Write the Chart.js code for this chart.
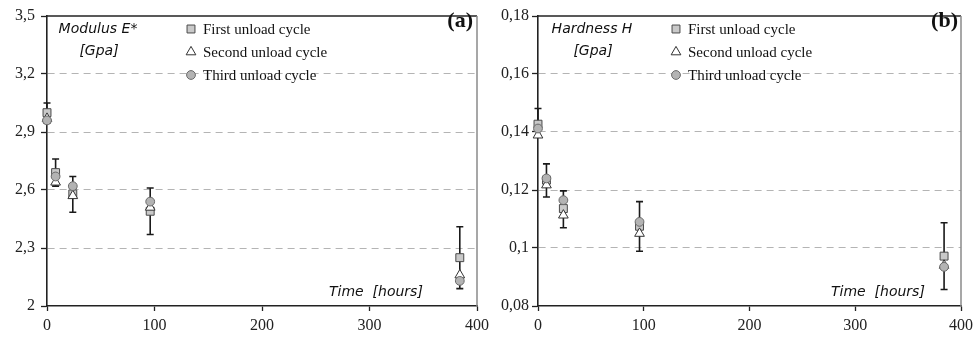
<!DOCTYPE html>
<html><head><meta charset="utf-8">
<script src="https://cdn.jsdelivr.net/npm/chart.js@4/dist/chart.umd.min.js"></script>
<style>
html,body{margin:0;padding:0;background:#fff;}
#wrap{position:relative;width:974px;height:339px;overflow:hidden;}
.pane{position:absolute;top:0;height:339px;}
</style></head><body>
<div id="wrap">
<div class="pane" style="left:0;width:500px"><canvas id="ca"></canvas></div>
<div class="pane" style="left:487px;width:487px"><canvas id="cb"></canvas></div>
</div>
<script>
// ---- data ----
const timeHours = [0, 8, 24, 96, 384];
const seriesNames = ['First unload cycle', 'Second unload cycle', 'Third unload cycle'];

const modulusFirst   = [3.00, 2.69, 2.58, 2.49, 2.25];
const modulusSecond  = [2.97, 2.64, 2.57, 2.51, 2.16];
const modulusThird   = [2.96, 2.67, 2.62, 2.54, 2.13];
const modulusErrLow  = [2.945, 2.62, 2.485, 2.37, 2.09];
const modulusErrHigh = [3.05, 2.76, 2.67, 2.61, 2.41];

const hardnessFirst   = [0.1427, 0.1234, 0.1136, 0.1075, 0.0972];
const hardnessSecond  = [0.1389, 0.1217, 0.1113, 0.1050, 0.0940];
const hardnessThird   = [0.1412, 0.1240, 0.1165, 0.1090, 0.0935];
const hardnessErrLow  = [0.1385, 0.1176, 0.1070, 0.0989, 0.0857];
const hardnessErrHigh = [0.1481, 0.1290, 0.1197, 0.1160, 0.1087];

const xTicks = [0, 100, 200, 300, 400];
const modulusTicks = [2, 2.3, 2.6, 2.9, 3.2, 3.5];
const hardnessTicks = [0.08, 0.1, 0.12, 0.14, 0.16, 0.18];

const panelA = { title: ['Modulus E*', '[Gpa]'], tag: '(a)', xTitle: 'Time  [hours]' };
const panelB = { title: ['Hardness H', '[Gpa]'], tag: '(b)', xTitle: 'Time  [hours]' };

// ---- styles ----
const SERIF = "'Liberation Serif', 'Times New Roman', serif";
const HAND = "'DejaVu Sans', sans-serif";
const markerStyles = [
  { pointStyle: 'rect', radius: 5.6, bg: '#c9c9c9', border: '#4a4a4a' },
  { pointStyle: 'triangle', radius: 5.6, bg: '#ffffff', border: '#333333' },
  { pointStyle: 'circle', radius: 4.4, bg: '#b3b3b3', border: '#6a6a6a' }
];

function fmt(v) { return String(parseFloat(v.toFixed(3))).replace('.', ','); }
function pts(ys) { return timeHours.map((t, i) => ({ x: t, y: ys[i] })); }

const errorBarPlugin = {
  id: 'errorBars',
  beforeDatasetsDraw(chart, args, opts) {
    const { ctx, scales: { x, y } } = chart;
    ctx.save();
    ctx.strokeStyle = '#1a1a1a';
    ctx.lineWidth = 1.6;
    opts.low.forEach((lo, i) => {
      const px = x.getPixelForValue(timeHours[i]);
      const y1 = y.getPixelForValue(lo);
      const y2 = y.getPixelForValue(opts.high[i]);
      ctx.beginPath();
      ctx.moveTo(px, y1); ctx.lineTo(px, y2);
      ctx.moveTo(px - 3.5, y1); ctx.lineTo(px + 3.5, y1);
      ctx.moveTo(px - 3.5, y2); ctx.lineTo(px + 3.5, y2);
      ctx.stroke();
    });
    ctx.restore();
  }
};

const decorPlugin = {
  id: 'decor',
  afterDraw(chart, args, o) {
    const { ctx, chartArea: a } = chart;
    ctx.save();
    // frame top & right
    ctx.strokeStyle = '#222'; ctx.lineWidth = 1.5;
    ctx.beginPath(); ctx.moveTo(a.left, a.top); ctx.lineTo(a.right, a.top); ctx.stroke();
    ctx.strokeStyle = '#8a8a8a'; ctx.lineWidth = 1.5;
    ctx.beginPath(); ctx.moveTo(a.right, a.top); ctx.lineTo(a.right, a.bottom); ctx.stroke();
    // axis title (top-left)
    ctx.fillStyle = '#111';
    ctx.textBaseline = 'middle';
    ctx.textAlign = 'center';
    ctx.font = 'italic 14px ' + HAND;
    ctx.fillText(o.panel.title[0], o.titleX, 29);
    ctx.fillText(o.panel.title[1], o.titleX + 1, 51);
    // x title
    ctx.textAlign = 'left';
    ctx.fillText(o.panel.xTitle, o.xTitleX, 292);
    // tag
    ctx.textAlign = 'right';
    ctx.font = 'bold 22px ' + SERIF;
    ctx.fillText(o.panel.tag, o.tagX, 21);
    // legend
    const rows = [29, 52, 75];
    seriesNames.forEach((name, i) => {
      const m = markerStyles[i];
      ctx.fillStyle = m.bg; ctx.strokeStyle = m.border; ctx.lineWidth = 1;
      Chart.helpers.drawPoint(ctx, { pointStyle: m.pointStyle, radius: m.radius, rotation: 0, borderWidth: 1 }, o.legendX, rows[i]);
      ctx.fillStyle = '#111';
      ctx.textAlign = 'left';
      ctx.font = '15px ' + SERIF;
      ctx.fillText(name, o.legendX + 12, rows[i] + 1);
    });
    ctx.restore();
  }
};

function makeChart(id, series, low, high, yTicks, panel, geo) {
  const ymin = yTicks[0], ymax = yTicks[yTicks.length - 1];
  const datasets = series.map((s, i) => ({
    label: seriesNames[i],
    data: pts(s),
    showLine: false,
    clip: false,
    pointStyle: markerStyles[i].pointStyle,
    pointRadius: markerStyles[i].radius,
    pointBackgroundColor: markerStyles[i].bg,
    pointBorderColor: markerStyles[i].border,
    pointBorderWidth: 1,
    order: 3 - i
  }));
  return new Chart(document.getElementById(id), {
    type: 'scatter',
    data: { datasets },
    plugins: [errorBarPlugin, decorPlugin],
    options: {
      responsive: true,
      maintainAspectRatio: false,
      animation: false,
      events: [],
      layout: { padding: { top: 16, right: geo.padRight, left: 0, bottom: 0 } },
      plugins: {
        legend: { display: false },
        tooltip: { enabled: false },
        errorBars: { low, high },
        decor: { panel, titleX: geo.titleX, xTitleX: geo.xTitleX, tagX: geo.tagX, legendX: geo.legendX }
      },
      scales: {
        x: {
          type: 'linear', min: 0, max: 400,
          afterBuildTicks(s) { s.ticks = xTicks.map(v => ({ value: v })); },
          afterFit(s) { s.height = 33; s.paddingLeft = 0; s.paddingRight = 0; },
          grid: { drawOnChartArea: false, drawTicks: true, tickLength: 5, tickColor: '#222', tickWidth: 1.3 },
          border: { color: '#222', width: 1.6 },
          ticks: { font: { family: SERIF, size: 16 }, color: '#222', padding: 5, maxRotation: 0 }
        },
        y: {
          type: 'linear', min: ymin, max: ymax,
          afterBuildTicks(s) { s.ticks = yTicks.map(v => ({ value: v })); },
          afterFit(s) { s.width = geo.yWidth; s.paddingTop = 0; s.paddingBottom = 0; },
          grid: {
            drawOnChartArea: true, tickLength: 6, tickColor: '#222', tickWidth: 1.3, lineWidth: 1,
            color: c => (c.tick && (Math.abs(c.tick.value - ymin) < 1e-9 || Math.abs(c.tick.value - ymax) < 1e-9)) ? 'rgba(0,0,0,0)' : '#b4b4b4'
          },
          border: { color: '#222', width: 1.6, dash: [7, 5] },
          ticks: { font: { family: SERIF, size: 16 }, color: '#222', padding: geo.yPad, callback: v => fmt(v) }
        }
      }
    }
  });
}

makeChart('ca', [modulusFirst, modulusSecond, modulusThird], modulusErrLow, modulusErrHigh, modulusTicks, panelA,
  { padRight: 23, yWidth: 47, yPad: 6, titleX: 98, xTitleX: 329, tagX: 473, legendX: 191 });
makeChart('cb', [hardnessFirst, hardnessSecond, hardnessThird], hardnessErrLow, hardnessErrHigh, hardnessTicks, panelB,
  { padRight: 13, yWidth: 51, yPad: 3, titleX: 105, xTitleX: 344, tagX: 471, legendX: 189 });
</script>
</body></html>
